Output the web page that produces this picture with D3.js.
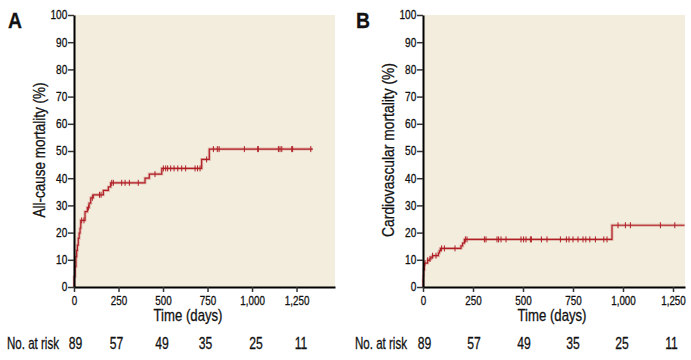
<!DOCTYPE html>
<html>
<head>
<meta charset="utf-8">
<script src="https://cdn.jsdelivr.net/npm/d3@7"></script>
<style>
  body { margin: 0; background: #fff; }
  svg text { font-family: "Liberation Sans", Arial, sans-serif; fill: #111; stroke: #111; stroke-width: 0.3px; }
</style>
</head>
<body>
<script>
// days at which "No. at risk" is shown, and the x tick values
var dayTicks = [0, 250, 500, 750, 1000, 1250];
var atRisk = [89, 57, 49, 35, 25, 11];
var pctTicks = [0, 10, 20, 30, 40, 50, 60, 70, 80, 90, 100];

// Panel A: all-cause mortality, steps [day, %]
var allCauseSteps = [[0,0],[1,3.8],[6,7.5],[11,11.2],[15,13.5],[19,15.4],[24,17.9],[29,19.8],[34,21.6],
  [38,24.5],[62,27.7],[75,29.2],[85,30.8],[94,32.8],[108,33.9],[165,35.5],[193,36.8],[206,38.3],
  [399,40],[423,41.5],[493,43.6],[717,46.9],[760,50.7],[1341,50.7]];
var allCauseCensor = [43,56,81,103,143,152,212,221,268,287,311,361,455,502,515,526,543,562,583,605,
  627,680,694,708,745,783,805,815,957,1032,1035,1148,1157,1167,1223,1228,1330];

// Panel B: cardiovascular mortality
var cvSteps = [[0,0],[1,2.7],[2,4.1],[3,6.3],[7,8.8],[23,9.8],[32,10.3],[40,11],[48,11.5],[77,12.5],
  [82,13.3],[87,14.2],[190,15.1],[198,16.1],[207,17.5],[945,22.7],[1308,22.7]];
var cvCensor = [10,23,35,48,65,93,107,160,212,220,307,315,370,378,390,415,490,503,515,537,542,592,620,
  687,717,730,750,775,800,814,834,862,904,920,975,1012,1037,1187,1259];

var W = 691, H = 360;
var svg = d3.select("body").append("svg").attr("width", W).attr("height", H);

// the figure uses a condensed face; squeeze a normal one horizontally
function squeezed(g, x, y, k, size) {
  return g.append("text")
    .attr("transform", "translate(" + x + "," + y + ") scale(" + k + ",1)")
    .attr("font-size", size);
}
// squeeze a text so it ends up `len` px wide
function fitted(g, x, y, len, size, str, rot) {
  var t = g.append("text").attr("font-size", size).text(str);
  var k = len / t.node().getComputedTextLength();
  t.attr("transform", "translate(" + x + "," + y + ")" + (rot ? " rotate(-90)" : "") + " scale(" + k + ",1)");
  return t;
}

function panel(opt) {
  var x = d3.scaleLinear().domain([0, opt.maxDay]).range([opt.left, opt.right]);
  var y = d3.scaleLinear().domain([0, 100]).range([287, 15]);
  var g = svg.append("g");

  g.append("rect").attr("x", opt.left).attr("y", 15)
    .attr("width", opt.right - opt.left).attr("height", 287 - 15)
    .attr("fill", "#f2eddd");

  // curve: a soft halo under a thin dark red line
  var line = d3.line().curve(d3.curveStepAfter)
    .x(function(d){ return x(d[0]); }).y(function(d){ return y(d[1]); });
  g.append("path").datum(opt.steps).attr("d", line)
    .attr("fill", "none").attr("stroke", "rgba(190,60,60,0.3)").attr("stroke-width", 3);
  g.append("path").datum(opt.steps).attr("d", line)
    .attr("fill", "none").attr("stroke", "#b01f26").attr("stroke-width", 1.2);

  function valueAt(t) {
    var v = 0;
    opt.steps.forEach(function(s){ if (s[0] <= t) v = s[1]; });
    return v;
  }
  g.selectAll("line.cens").data(opt.censor).enter().append("line")
    .attr("class", "cens")
    .attr("x1", function(d){ return x(d); }).attr("x2", function(d){ return x(d); })
    .attr("y1", function(d){ return y(valueAt(d)) - 3; })
    .attr("y2", function(d){ return y(valueAt(d)) + 3; })
    .attr("stroke", "#b01f26").attr("stroke-width", 1);

  // axes
  var yAxis = d3.axisLeft(y).tickValues(pctTicks).tickSize(6).tickSizeOuter(0);
  var ga = g.append("g").attr("transform", "translate(" + opt.left + ",0)").call(yAxis);
  ga.select(".domain").attr("stroke", "#000").attr("stroke-width", 2);
  ga.selectAll(".tick line").attr("stroke", "#333").attr("stroke-width", 1.5);
  ga.selectAll("text").attr("font-size", 12).attr("x", -8)
    .attr("transform", "scale(0.84,1)")
    .style("font-family", "'Liberation Sans', Arial, sans-serif").attr("fill", "#111");

  var xAxis = d3.axisBottom(x).tickValues(dayTicks).tickSize(5).tickSizeOuter(0)
    .tickFormat(d3.format(","));
  var gx = g.append("g").attr("transform", "translate(0,287)").call(xAxis);
  gx.select(".domain").attr("stroke", "#000").attr("stroke-width", 2);
  gx.selectAll(".tick line").attr("stroke", "#333").attr("stroke-width", 1.5);
  gx.selectAll("text").attr("font-size", 12).attr("y", 9)
    .attr("transform", "scale(0.82,1)")
    .style("font-family", "'Liberation Sans', Arial, sans-serif").attr("fill", "#111");

  fitted(g, opt.titleX, 321, 69, 16, "Time (days)").attr("text-anchor", "middle");
  fitted(g, opt.yLabelX, 150, opt.yLabelLen, 16, opt.yLabel, true).attr("text-anchor", "middle");

  squeezed(g, opt.letterX, 28, 0.88, 22).attr("font-weight", "bold").text(opt.letter);

  fitted(g, opt.letterX - 1, 349, 52, 16, "No. at risk");
  atRisk.forEach(function(d, i){
    squeezed(g, x(dayTicks[i]) + opt.riskShift[i], 349, 0.76, 16)
      .attr("text-anchor", "middle").text(d);
  });
}

panel({ left: 74, right: 335, maxDay: 1466, steps: allCauseSteps, censor: allCauseCensor,
  yLabel: "All-cause mortality (%)", yLabelX: 45, yLabelLen: 135, titleX: 188, letter: "A", letterX: 8,
  riskShift: [1.5, -2, -1, -2, 4, 4.5] });
panel({ left: 423, right: 685, maxDay: 1310, steps: cvSteps, censor: cvCensor,
  yLabel: "Cardiovascular mortality (%)", yLabelX: 394, yLabelLen: 174, titleX: 552, letter: "B", letterX: 356,
  riskShift: [1.5, 1, 1, 0, -1, -1.5] });
</script>
</body>
</html>
